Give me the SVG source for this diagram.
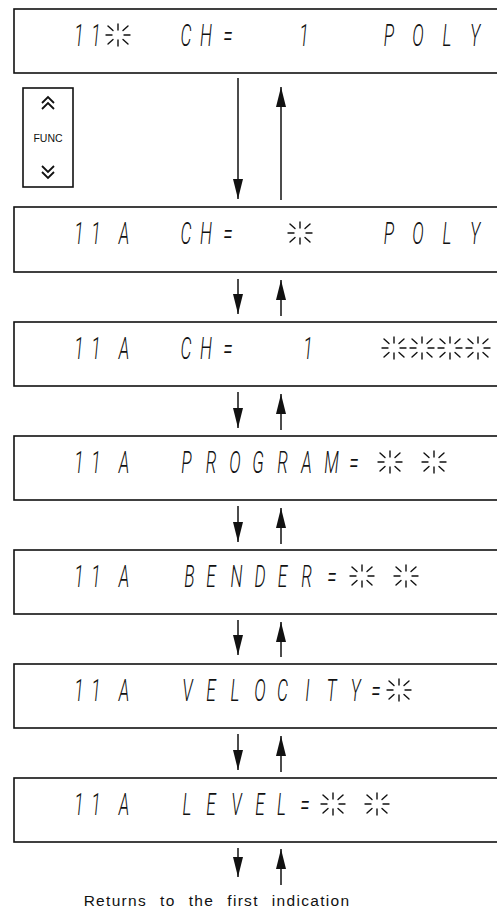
<svg xmlns="http://www.w3.org/2000/svg" xmlns:xlink="http://www.w3.org/1999/xlink" width="497" height="916" viewBox="0 0 497 916">
<style>
.box{fill:none;stroke:#111;stroke-width:1.6}
.lcd{font-family:Roboto,"DejaVu Sans",sans-serif;font-size:31px;font-weight:300;font-style:italic;fill:#111;text-anchor:middle}
.conn line{stroke:#111;stroke-width:1.5}
.bk line{stroke:#111;stroke-width:1.4;stroke-linecap:round}
.chev{fill:none;stroke:#111;stroke-width:1.8}
.lbl{font-family:"Liberation Sans",Arial,sans-serif;fill:#111}
</style>
<defs>
<marker id="ah" markerUnits="userSpaceOnUse" markerWidth="20" markerHeight="10" refX="20" refY="5" orient="auto">
<path d="M0,0 L20,5 L0,10 z" fill="#111"/>
</marker>
<g id="bk" class="bk">
<line x1="0" y1="-11" x2="0" y2="-5"/>
<line x1="0" y1="5" x2="0" y2="11"/>
<line x1="-12" y1="0" x2="-6" y2="0"/>
<line x1="6" y1="0" x2="12" y2="0"/>
<line x1="-10" y1="-9" x2="-5" y2="-4.5"/>
<line x1="10" y1="-9" x2="5" y2="-4.5"/>
<line x1="-10" y1="9" x2="-5" y2="4.5"/>
<line x1="10" y1="9" x2="5" y2="4.5"/>
</g>
</defs>
<rect width="497" height="916" fill="#fff"/>

<g id="row1">
<rect class="box" x="14" y="9" width="500" height="64"/>
<text class="lcd" transform="scale(0.56 1)" y="46" x="141.1 171.4 332.1 367.9 407.1 542.9 694.6 746.4 798.2 848.2">11CH=1POLY</text>
<use xlink:href="#bk" x="118" y="35"/>
</g>

<g id="func">
<rect class="box" x="23" y="88" width="50" height="99"/>
<polyline class="chev" points="42,103 48,97 54,103"/>
<polyline class="chev" points="42,109 48,103 54,109"/>
<text class="lbl" x="48" y="142" font-size="10.5" text-anchor="middle">FUNC</text>
<polyline class="chev" points="42,166 48,172 54,166"/>
<polyline class="chev" points="42,172 48,178 54,172"/>
</g>

<g id="row2">
<rect class="box" x="14" y="207" width="500" height="65"/>
<text class="lcd" transform="scale(0.56 1)" y="244" x="141.1 171.4 221.4 332.1 367.9 407.1 694.6 746.4 798.2 848.2">11ACH=POLY</text>
<use xlink:href="#bk" x="300" y="233"/>
</g>

<g id="row3">
<rect class="box" x="14" y="322" width="500" height="64"/>
<text class="lcd" transform="scale(0.56 1)" y="359" x="141.1 171.4 221.4 332.1 367.9 407.1 550">11ACH=1</text>
<use xlink:href="#bk" x="394" y="348"/>
<use xlink:href="#bk" x="422" y="348"/>
<use xlink:href="#bk" x="450" y="348"/>
<use xlink:href="#bk" x="478" y="348"/>
</g>

<g id="row4">
<rect class="box" x="14" y="436" width="500" height="64"/>
<text class="lcd" transform="scale(0.56 1)" y="473" x="141.1 171.4 221.4 333 376.8 419.6 460.7 504.5 547.3 592 632.1">11APROGRAM=</text>
<use xlink:href="#bk" x="390" y="462"/>
<use xlink:href="#bk" x="434" y="462"/>
</g>

<g id="row5">
<rect class="box" x="14" y="550" width="500" height="64"/>
<text class="lcd" transform="scale(0.56 1)" y="587" x="141.1 171.4 221.4 338.4 376.8 422.3 464.3 504.5 547.3 592.9">11ABENDER=</text>
<use xlink:href="#bk" x="362" y="576"/>
<use xlink:href="#bk" x="406" y="576"/>
</g>

<g id="row6">
<rect class="box" x="14" y="664" width="500" height="64"/>
<text class="lcd" transform="scale(0.56 1)" y="701" x="141.1 171.4 221.4 334.8 376.8 419.6 464.3 504.5 549.1 592 634.8 671.4">11AVELOCITY=</text>
<use xlink:href="#bk" x="399" y="690"/>
</g>

<g id="row7">
<rect class="box" x="14" y="778" width="500" height="64"/>
<text class="lcd" transform="scale(0.56 1)" y="815" x="141.1 171.4 221.4 333.9 376.8 422.3 464.3 502.7 544.6">11ALEVEL=</text>
<use xlink:href="#bk" x="333" y="804"/>
<use xlink:href="#bk" x="377" y="804"/>
</g>

<g id="connectors" class="conn">
<line x1="238" y1="78" x2="238" y2="199" marker-end="url(#ah)"/>
<line x1="281" y1="200" x2="281" y2="87" marker-end="url(#ah)"/>
<line x1="238" y1="279" x2="238" y2="314" marker-end="url(#ah)"/>
<line x1="281" y1="316" x2="281" y2="280" marker-end="url(#ah)"/>
<line x1="238" y1="392" x2="238" y2="428" marker-end="url(#ah)"/>
<line x1="281" y1="430" x2="281" y2="394" marker-end="url(#ah)"/>
<line x1="238" y1="506" x2="238" y2="542" marker-end="url(#ah)"/>
<line x1="281" y1="544" x2="281" y2="508" marker-end="url(#ah)"/>
<line x1="238" y1="620" x2="238" y2="655" marker-end="url(#ah)"/>
<line x1="281" y1="657" x2="281" y2="622" marker-end="url(#ah)"/>
<line x1="238" y1="734" x2="238" y2="770" marker-end="url(#ah)"/>
<line x1="281" y1="772" x2="281" y2="736" marker-end="url(#ah)"/>
<line x1="238" y1="848" x2="238" y2="877" marker-end="url(#ah)"/>
<line x1="281" y1="885" x2="281" y2="849" marker-end="url(#ah)"/>
</g>

<text id="note" class="lbl" x="217" y="906" font-size="15.5" text-anchor="middle" letter-spacing="1.3" word-spacing="7.5">Returns to the first indication</text>
</svg>
